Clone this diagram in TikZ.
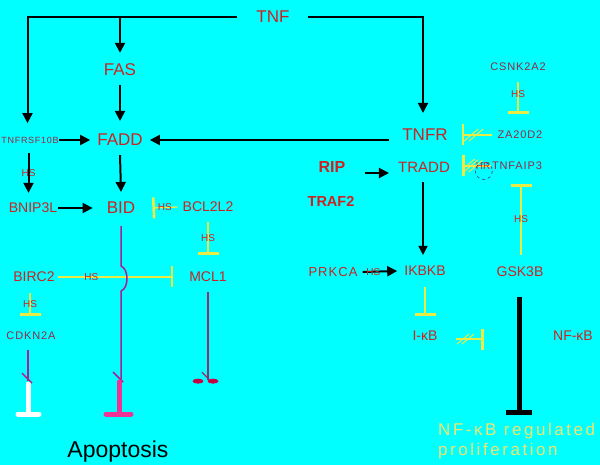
\documentclass[tikz,border=0pt]{standalone}
\usepackage{fontspec}
\setmainfont{Liberation Sans}
\newfontfamily\lsf[LetterSpace=8]{Liberation Sans}
\newfontfamily\plf[LetterSpace=15]{Liberation Sans}
\usetikzlibrary{arrows.meta,calc}
\definecolor{bgc}{RGB}{0,255,255}
\definecolor{tred}{RGB}{204,34,34}
\definecolor{dred}{RGB}{150,40,70}
\definecolor{ylw}{RGB}{235,235,70}
\definecolor{pcol}{RGB}{170,30,150}
\definecolor{pinkc}{RGB}{240,50,150}
\definecolor{mcol}{RGB}{160,40,100}
\definecolor{wingc}{RGB}{200,0,70}
\definecolor{pyel}{RGB}{240,230,110}
\definecolor{circc}{RGB}{60,60,120}
\tikzset{
  lbl/.style={inner sep=0pt, text=tred},
  big/.style={lbl, font=\fontsize{17}{20}\selectfont},
  mid/.style={lbl, font=\fontsize{14}{17}\selectfont},
  sml/.style={inner sep=0pt, text=dred, font=\lsf\fontsize{11}{13}\selectfont},
  hs/.style={inner sep=0pt, text=tred, font=\fontsize{10}{12}\selectfont},
  arr/.style={draw=black, line width=2pt, -{Triangle[length=10pt,width=10pt]}},
  arrthin/.style={draw=black, line width=1.5pt, -{Triangle[length=9pt,width=9pt]}},
  inh/.style={draw=ylw, line width=1.3pt, -{Bar[width=21pt,line width=2.6pt]}},
  slash/.style={draw=ylw, line width=1pt},
  pline/.style={draw=pcol, line width=1.5pt},
  mline/.style={draw=mcol, line width=1.8pt},
  tbar/.style={line width=5pt, line cap=round},
}
\begin{document}
\begin{tikzpicture}[x=1pt,y=-1pt]
\fill[bgc] (0,0) rectangle (600,465);
\useasboundingbox (0,0) rectangle (600,465);

% ---------- nodes left ----------
\node[big] (TNF) at (273,17) {TNF};
\node[big] (FAS) at (120,70) {FAS};
\node[big] (FADD) at (120,140) {FADD};
\node[sml, font=\lsf\fontsize{9}{11}\selectfont] (TNFRSF) at (30,140) {TNFRSF10B};
\node[mid] (BNIP) at (33,208) {BNIP3L};
\node[big] (BID) at (121,208) {BID};
\node[mid] (BCL) at (208,207) {BCL2L2};
\node[mid] (MCL) at (208,277) {MCL1};
\node[mid] (BIRC) at (34,277) {BIRC2};
\node[sml] (CDKN) at (31,336) {CDKN2A};
\node[inner sep=0pt, font=\fontsize{23}{26}\selectfont] (APO) at (118,452) {Apoptosis};

% ---------- nodes right ----------
\node[sml] (CSNK) at (518,67) {CSNK2A2};
\node[big] (TNFR) at (425,135) {TNFR};
\node[sml] (ZA) at (520,135) {ZA20D2};
\node[lbl, font=\fontsize{15}{18}\selectfont] (TRADD) at (424,167) {TRADD};
\node[sml] (TNFAIP) at (517,166) {TNFAIP3};
\node[lbl, font=\bfseries\fontsize{16}{19}\selectfont] (RIP) at (332,167) {RIP};
\node[lbl, font=\bfseries\fontsize{14.5}{17}\selectfont] (TRAF) at (331,201) {TRAF2};
\node[lbl, font=\lsf\fontsize{13}{16}\selectfont] (PRKCA) at (333,272) {PRKCA};
\node[mid] (IKBKB) at (425,271) {IKBKB};
\node[mid] (GSK) at (520,272) {GSK3B};
\node[mid] (IKB) at (425,336) {I-κB};
\node[mid] (NFKB) at (573,336) {NF-κB};
\node[inner sep=0pt, text=pyel, font=\plf\fontsize{17}{20}\selectfont, align=left, anchor=north west] (PROL) at (438,423) {NF-κB regulated\\proliferation};

% ---------- black arrows ----------
\draw[arr] ($(TNF.west)+(-19.5,0)$) -| ($(TNFRSF.north)+(-2.5,-13.5)$);
\draw[arr] ($(TNF.east)+(18.5,0)$) -| ($(TNFR.north)+(-2,-16)$);
\draw[arr] (FAS.north |- TNF.west) -- ($(FAS.north)+(0,-11)$);
\draw[arr] ($(FAS.south)+(0,9)$) -- ($(FADD.north)+(0,-13)$);
\draw[arr] (TNFRSF.east) -- ($(FADD.west)+(-7,0)$);
\draw[arr] ($(TNFR.west |- FADD.east)+(-13,0)$) -- ($(FADD.east)+(7,0)$);
\draw[arr] ($(FADD.south)+(0,9)$) -- ($(BID.north)+(0,-10)$);
\draw[arr] ($(TNFRSF.south)+(-1.5,10)$) -- ($(TNFRSF.south |- BNIP.north)+(-1.5,-10)$) node[hs,pos=0.49]{HS};
\draw[arr] ($(BNIP.east)+(1,0)$) -- ($(BID.west)+(-14,0)$);
\draw[arr] ($(RIP.east)+(19,6)$) -- ($(TRADD.west |- RIP.east)+(-9,6)$);
\draw[arrthin] ($(TRADD.south)+(-1,10)$) -- ($(TRADD.south |- IKBKB.north)+(-1,-11)$);
\draw[arr] ($(PRKCA.east)+(5,0)$) -- ($(IKBKB.west)+(-7,0)$) node[hs,pos=0.31]{HS};

% ---------- yellow inhibitions ----------
\draw[inh] ($(BCL.west)+(-5,0)$) -- ($(BID.east)+(17,0)$) node[hs,pos=0.5]{HS};
\draw[inh] ($(BCL.south)+(0,10)$) -- ($(MCL.north)+(0,-17)$) node[hs,pos=0.5]{HS};
\draw[inh] ($(BIRC.east)+(3,0)$) -- ($(MCL.west)+(-16,0)$) node[hs,pos=0.29]{HS};
\draw[inh] ($(BIRC.south)+(-4,11)$) -- ($(BIRC.south |- CDKN.north)+(-4,-16)$) node[hs,pos=0.5]{HS};

\draw[inh] ($(CSNK.south)+(0,11)$) -- ($(CSNK.south |- ZA.north)+(0,-17)$) node[hs,pos=0.375]{HS};
\draw[inh] ($(ZA.west)+(-5,0)$) -- ($(TNFR.east |- ZA.west)+(14,0)$) coordinate[pos=0.63] (s1);
\draw[slash] ($(s1)+(-9,6)$) -- ($(s1)+(5,-6)$) ($(s1)+(-4,6)$) -- ($(s1)+(10,-6)$);
\draw[inh] ($(TNFAIP.west)+(-1,0)$) -- ($(TRADD.east |- TNFAIP.west)+(12,0)$) coordinate[pos=0.63] (s2) node[hs,pos=0.27]{HR};
\draw[slash] ($(s2)+(-9,6)$) -- ($(s2)+(5,-6)$) ($(s2)+(-4,6)$) -- ($(s2)+(10,-6)$) ($(s2)+(-10,3)$) -- ($(s2)+(2,-7)$);
\draw[dashed, draw=circc, line width=0.6pt] ($(TNFAIP.west)+(-8,5)$) circle[radius=8.5];
\draw[inh] ($(GSK.north)+(1,-12)$) -- ($(GSK.north |- TNFAIP.south)+(1,14)$) node[hs,pos=0.5]{HS};
\draw[inh] ($(IKBKB.south)+(0,11)$) -- ($(IKB.north)+(0,-15)$);
\draw[inh] ($(IKB.east)+(18,3)$) -- ($(IKB.east)+(46,3)$) coordinate[pos=0.3] (s3);
\draw[slash] ($(s3)+(-7,5)$) -- ($(s3)+(5,-5)$) ($(s3)+(-2,5)$) -- ($(s3)+(10,-5)$);

% ---------- thick black inhibition ----------
\draw[draw=black, line width=5pt, -{Bar[width=26pt,line width=5pt]}] ($(GSK.south)+(-1,20)$) -- ($(GSK.south |- PROL.north)+(-1,-8)$);

% ---------- apoptosis lines ----------
\draw[pline] ($(BID.south)+(0,12)$) -- ($(BID.south)+(0,52)$)
  .. controls ($(BID.south)+(8,55)$) and ($(BID.south)+(8,74)$) .. ($(BID.south)+(0,77)$)
  -- ($(BID.south)+(0,165)$) coordinate (bidend);
\draw[pline] ($(bidend)+(-8,-7)$) -- ($(bidend)+(2,3)$);
\draw[tbar, draw=pinkc] ($(bidend)+(-2,3)$) -- ($(bidend)+(-2,34)$) coordinate (pb);
\draw[tbar, draw=pinkc] ($(pb)+(-13,1)$) -- ($(pb)+(12,1)$);

\draw[pline] ($(CDKN.south)+(-3,10)$) -- ($(CDKN.south)+(-3,41)$) coordinate (cdend);
\draw[pline] ($(cdend)+(-6,-8)$) -- ($(cdend)+(4,2)$);
\draw[tbar, draw=white] ($(cdend)+(0,3)$) -- ($(cdend)+(0,32)$) coordinate (wb);
\draw[tbar, draw=white] ($(wb)+(-10,1)$) -- ($(wb)+(11,1)$);

\draw[mline] ($(MCL.south)+(0,10)$) -- ($(MCL.south)+(0,98)$) coordinate (mcend);
\draw[mline, line width=1.2pt] ($(mcend)+(-6,-8)$) -- ($(mcend)+(1,-1)$);
\fill[wingc] ($(mcend)+(-10,1)$) ellipse[x radius=5.5, y radius=2.5];
\fill[wingc] ($(mcend)+(5,1)$) ellipse[x radius=5.5, y radius=2.5];
\end{tikzpicture}
\end{document}
